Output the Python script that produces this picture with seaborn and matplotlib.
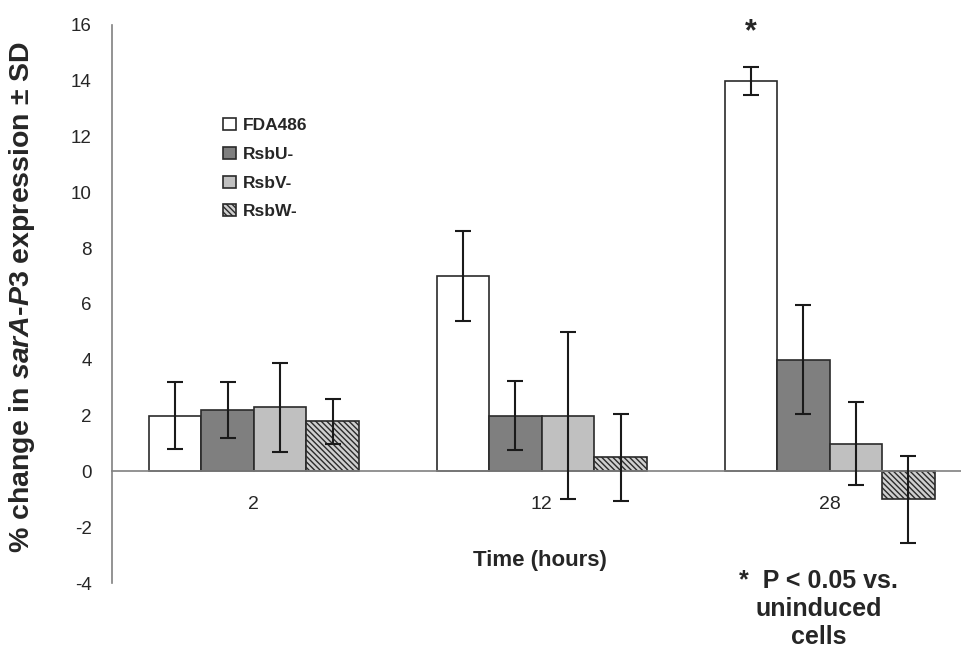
import pandas as pd
import matplotlib
matplotlib.use("Agg")
import matplotlib.pyplot as plt
import seaborn as sns

# Data
times = ["2", "12", "28"]
strains = ["FDA486", "RsbU-", "RsbV-", "RsbW-"]
fda486 = [2.0, 7.0, 14.0]
rsbu = [2.2, 2.0, 4.0]
rsbv = [2.3, 2.0, 1.0]
rsbw = [1.8, 0.5, -1.0]
fda486_sd = [1.2, 1.6, 0.5]
rsbu_sd = [1.0, 1.25, 1.95]
rsbv_sd = [1.6, 3.0, 1.5]
rsbw_sd = [0.8, 1.55, 1.57]

values = [fda486, rsbu, rsbv, rsbw]
sds = [fda486_sd, rsbu_sd, rsbv_sd, rsbw_sd]

rows = []
for s, vals in zip(strains, values):
    for t, v in zip(times, vals):
        rows.append({"time": t, "strain": s, "value": v})
df = pd.DataFrame(rows)

sns.set_style("white")
plt.rcParams["font.family"] = ["Liberation Sans", "DejaVu Sans"]
plt.rcParams["mathtext.fontset"] = "custom"
plt.rcParams["mathtext.it"] = "Liberation Sans:italic:bold"
plt.rcParams["mathtext.rm"] = "Liberation Sans:bold"
plt.rcParams["axes.unicode_minus"] = False
plt.rcParams["hatch.linewidth"] = 1.0

colors = ["#ffffff", "#7f7f7f", "#c0c0c0", "#ffffff"]
edge = "#2a2a2a"
axis_col = "#808080"

fig = plt.figure(figsize=(9.62, 6.52), dpi=100)
ax = fig.add_axes([0.1164, 0.1058, 0.8836, 0.8559])

sns.barplot(data=df, x="time", y="value", hue="strain", order=times,
            hue_order=strains, palette=colors, width=0.73, errorbar=None,
            edgecolor=edge, linewidth=1.2, legend=False, ax=ax)
bar_conts = list(ax.containers)

# error bars (SD) on each bar
for i, cont in enumerate(bar_conts):
    xs = [p.get_x() + p.get_width() / 2 for p in cont.patches]
    ax.errorbar(xs, values[i], yerr=sds[i], fmt="none", ecolor="#1a1a1a",
                elinewidth=1.5, capsize=5.5, capthick=1.5, zorder=5)

# hatched RsbW- bars
for p in bar_conts[3].patches:
    p.set_hatch("\\\\\\\\\\\\")
    p.set_facecolor("#cfcfcf")
    p.set_edgecolor("#2a2a2a")

ax.set_ylim(-4, 16)
ax.set_xlim(-0.493, 2.46)
ax.set_yticks(range(-4, 17, 2))
ax.tick_params(axis="y", which="major", direction="out", length=5.5, width=1,
               color=axis_col, labelsize=13.5, pad=9)
ax.set_xticks([0, 1, 2])
ax.set_xticklabels(times)
ax.set_xticks([0.5, 1.5], minor=True)
ax.tick_params(axis="x", which="major", length=0, labelsize=14, pad=18)
ax.tick_params(axis="x", which="minor", direction="out", length=5, width=1,
               color=axis_col)

for side in ["top", "right"]:
    ax.spines[side].set_visible(False)
ax.spines["bottom"].set_position(("data", 0))
ax.spines["bottom"].set_color(axis_col)
ax.spines["left"].set_color(axis_col)
ax.spines["bottom"].set_linewidth(1.2)
ax.spines["left"].set_linewidth(1.2)

ax.set_xlabel("")
ax.set_ylabel("% change in $\\mathit{sarA}$-$\\mathit{P3}$ expression ± SD",
              fontsize=20.5, fontweight="bold")
ax.yaxis.set_label_coords(-0.088, 0.5125)

fig.text(0.561, 0.141, "Time (hours)", fontsize=16, fontweight="bold",
         ha="center", va="center")

# significance marker
bar28 = bar_conts[0].patches[2]
ax.text(bar28.get_x() + bar28.get_width() / 2, 15.75, "*", fontsize=22,
        fontweight="bold", ha="center", va="center")

fig.text(0.851, 0.066, "*  P < 0.05 vs.\nuninduced\ncells", fontsize=18,
         fontweight="bold", ha="center", va="center", linespacing=1.2)

handles = [bar_conts[i].patches[0] for i in range(4)]
ax.legend(handles, strains, loc="upper left", bbox_to_anchor=(0.2233, 0.832),
          bbox_transform=fig.transFigure, frameon=False, handlelength=0.7,
          handleheight=0.7, handletextpad=0.4, labelspacing=0.78,
          borderpad=0, prop={"weight": "bold", "size": 12.5})

fig.savefig("out.png", dpi=100)
